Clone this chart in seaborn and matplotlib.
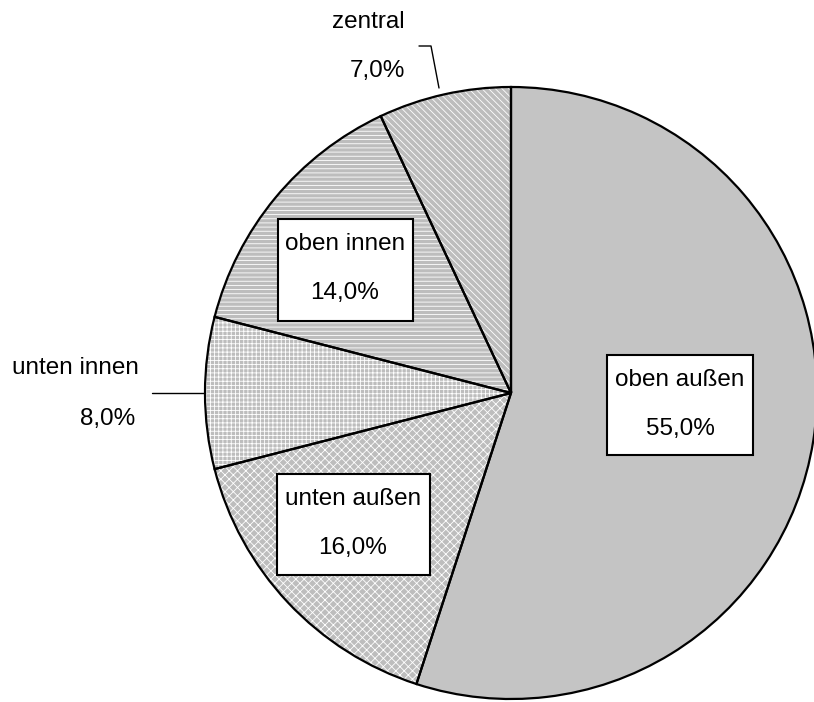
import matplotlib
matplotlib.use("Agg")
import matplotlib.pyplot as plt
from matplotlib.patches import Rectangle
import seaborn as sns

# Shares by position (clockwise from the top)
categories = ["oben außen", "unten außen", "unten innen", "oben innen", "zentral"]
shares = [55.0, 16.0, 8.0, 14.0, 7.0]
value_labels = ["55,0%", "16,0%", "8,0%", "14,0%", "7,0%"]
hatches = ["", "xxxx", "++++", "----", "\\\\\\\\\\"]

sns.set_theme(style="white")
plt.rcParams["font.family"] = ["Liberation Sans", "DejaVu Sans"]
plt.rcParams["hatch.color"] = "white"
plt.rcParams["hatch.linewidth"] = 0.6

W, H = 814, 702
fig = plt.figure(figsize=(W / 100, H / 100), dpi=100)
ax = fig.add_axes([0, 0, 1, 1])

center = (511, 393)
radius = 306

# Image-style coordinates: y grows downward, so the pie runs clockwise from the top
fills = ["#c4c4c4", "#bdbdbd", "#bdbdbd", "#bdbdbd", "#bdbdbd"]
wedges, _ = ax.pie(shares, startangle=-90, counterclock=True, center=center,
                   radius=radius, colors=fills,
                   wedgeprops=dict(edgecolor="white", linewidth=0))
for w, h in zip(wedges, hatches):
    if h:
        w.set_hatch(h)

# Black outlines on top of the hatched fills
ax.pie(shares, startangle=-90, counterclock=True, center=center, radius=radius,
       colors=["none"] * len(shares),
       wedgeprops=dict(edgecolor="black", linewidth=1.6, fill=False))

ax.set_xlim(0, W)
ax.set_ylim(H, 0)
ax.set_aspect("equal")
ax.axis("off")

fs = 17.5

# Boxed labels inside the larger slices
boxed = {
    "oben außen": ((607, 355, 146, 100), 680),
    "oben innen": ((278, 219, 135, 102), 345),
    "unten außen": ((277, 474, 153, 101), 353),
}
for name, ((bx, by, bw, bh), tx) in boxed.items():
    i = categories.index(name)
    ax.add_patch(Rectangle((bx, by), bw, bh, facecolor="white",
                           edgecolor="black", linewidth=1.5, zorder=5))
    ax.text(tx, by + 25, categories[i], ha="center", va="center",
            fontsize=fs, color="black", zorder=6)
    ax.text(tx, by + 74, value_labels[i], ha="center", va="center",
            fontsize=fs, color="black", zorder=6)

# Outside labels with leader lines for the small slices
i = categories.index("zentral")
ax.text(368, 22, categories[i], ha="center", va="center", fontsize=fs, color="black")
ax.text(405, 71, value_labels[i], ha="right", va="center", fontsize=fs, color="black")
ax.plot([419, 431, 439], [46, 46, 88], color="black", linewidth=1.0)

i = categories.index("unten innen")
ax.text(75, 368, categories[i], ha="center", va="center", fontsize=fs, color="black")
ax.text(135, 419, value_labels[i], ha="right", va="center", fontsize=fs, color="black")
ax.plot([152, 205], [393, 393], color="black", linewidth=1.0)

fig.savefig("out.png", dpi=100, facecolor="white")
